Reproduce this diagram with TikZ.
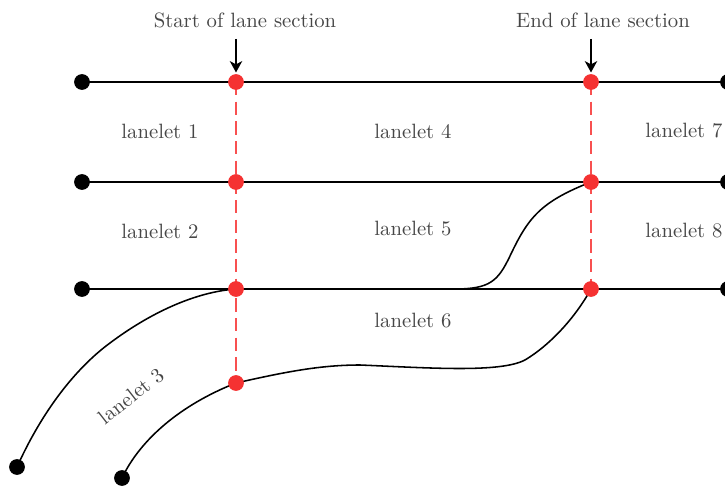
\documentclass[tikz,border=0pt]{standalone}
\usetikzlibrary{arrows.meta,backgrounds}
\definecolor{dotred}{RGB}{245,50,50}
\definecolor{dashred}{RGB}{248,80,80}
\definecolor{txtgray}{RGB}{70,70,70}
\begin{document}
\begin{tikzpicture}[x=0.483pt,y=-0.483pt,
  bdot/.style={circle,fill=black,inner sep=0pt,minimum size=7.6pt},
  rdot/.style={circle,fill=dotred,inner sep=0pt,minimum size=7.6pt},
  lane/.style={line width=0.75pt,black},
  sect/.style={line width=0.9pt,dashred,dash pattern=on 6.5pt off 3pt},
  lbl/.style={text=txtgray,font=\fontsize{10}{12}\selectfont,inner sep=0pt},
  pointer/.style={line width=0.75pt,-{Stealth[length=5.5pt,width=6pt,inset=1.6pt]}}]
\useasboundingbox (0,0) rectangle (725,486);
% dots
\node[bdot] (l1) at (82,82) {};
\node[bdot] (l2) at (82,182) {};
\node[bdot] (l3) at (82,289) {};
\node[bdot] (e1) at (728,82) {};
\node[bdot] (e2) at (728,182) {};
\node[bdot] (e3) at (728,289) {};
\node[bdot] (s1) at (17,467) {};
\node[bdot] (s2) at (122,478) {};
\node[rdot] (a1) at (236,82) {};
\node[rdot] (a2) at (236,182) {};
\node[rdot] (a3) at (236,289) {};
\node[rdot] (a4) at (236,383) {};
\node[rdot] (b1) at (591,82) {};
\node[rdot] (b2) at (591,182) {};
\node[rdot] (b3) at (591,289) {};
\coordinate (m) at (455,289);
% labels
\node[lbl] (t1) at (245,20) {Start of lane section};
\node[lbl] (t2) at (603,20) {End of lane section};
\coordinate (p1) at (236,39);
\coordinate (p2) at (591,39);
\node[lbl] (n1) at (160,131) {lanelet 1};
\node[lbl] (n2) at (160,231) {lanelet 2};
\node[lbl,rotate=38] (n3) at (131,396) {lanelet 3};
\node[lbl] (n4) at (413,131) {lanelet 4};
\node[lbl] (n5) at (413,229) {lanelet 5};
\node[lbl] (n6) at (413,321) {lanelet 6};
\node[lbl] (n7) at (684,131) {lanelet 7};
\node[lbl] (n8) at (684,231) {lanelet 8};
% arrows
\draw[pointer,shorten >=0.6pt] (p1) -- (a1);
\draw[pointer,shorten >=0.6pt] (p2) -- (b1);
\begin{scope}[on background layer]
\draw[sect] (a1.center) -- (a4.center);
\draw[sect] (b1.center) -- (b3.center);
\draw[lane] (l1.center) -- (a1.center) -- (b1.center) -- (e1.center);
\draw[lane] (l2.center) -- (a2.center) -- (b2.center) -- (e2.center);
\draw[lane] (l3.center) -- (a3.center) -- (b3.center) -- (e3.center);
\draw[lane] (s1.center) .. controls (45,405) and (80,365) .. (110,343)
  .. controls (150,313) and (195,292) .. (a3.center);
\draw[lane] (s2.center) .. controls (140,440) and (180,405) .. (a4.center)
  .. controls (285,372) and (320,365) .. (360,365)
  .. controls (430,368) and (500,373) .. (525,360)
  .. controls (550,345) and (575,318) .. (b3.center);
\draw[lane] (m) .. controls (490,289) and (498,281) .. (510,256)
  .. controls (528,218) and (540,202) .. (b2.center);
\end{scope}
\end{tikzpicture}
\end{document}
